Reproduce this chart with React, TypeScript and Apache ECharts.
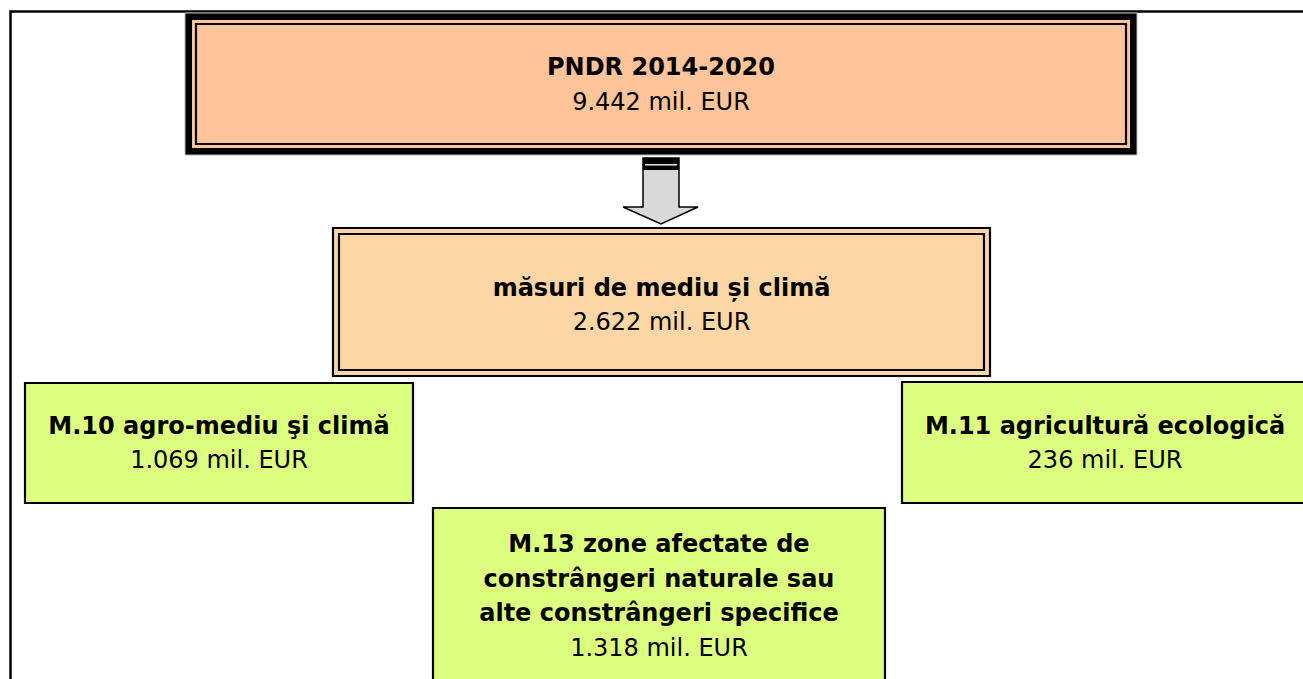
import React, { useEffect, useRef } from "react";
import * as echarts from "echarts";

// ---- data ----
const boxTitles: string[][] = [
  ["PNDR 2014-2020"],
  ["măsuri de mediu și climă"],
  ["M.10 agro-mediu şi climă"],
  ["M.11 agricultură ecologică"],
  ["M.13 zone afectate de", "constrângeri naturale sau", "alte constrângeri specifice"],
];
const boxAmounts: number[] = [9442, 2622, 1069, 236, 1318];
const amountUnit = "mil. EUR";

// ---- layout (positions / sizes / styles) ----
const FONT = "'DejaVu Sans', Verdana, sans-serif";
const FS = 24;
const LH = 34.5;
type Box = { x: number; y: number; w: number; h: number; cx: number; cy: number };
const boxes: Box[] = [
  { x: 185, y: 13, w: 952, h: 142, cx: 661, cy: 84.5 },
  { x: 332, y: 227, w: 659, h: 150, cx: 661.5, cy: 305 },
  { x: 25, y: 383, w: 388, h: 120, cx: 219, cy: 443 },
  { x: 902, y: 382, w: 410, h: 121, cx: 1105, cy: 443 },
  { x: 433, y: 508, w: 452, h: 220, cx: 659, cy: 596 },
];

const fmt = (v: number) => v.toString().replace(/\B(?=(\d{3})+(?!\d))/g, ".");

function textLines(i: number): any[] {
  const b = boxes[i];
  const lines = [...boxTitles[i].map((t) => ({ t, bold: true })), { t: `${fmt(boxAmounts[i])} ${amountUnit}`, bold: false }];
  const n = lines.length;
  return lines.map((l, k) => ({
    type: "text",
    x: b.cx,
    y: b.cy + (k - (n - 1) / 2) * LH,
    z: 10,
    style: {
      text: l.t,
      fill: "#000",
      font: `${l.bold ? "bold " : ""}${FS}px ${FONT}`,
      textAlign: "center",
      textVerticalAlign: "middle",
    },
  }));
}

export default function App() {
  const ref = useRef<HTMLDivElement>(null);
  useEffect(() => {
    if (!ref.current) return;
    const chart = echarts.init(ref.current, undefined, { renderer: "svg" });
    const [b0, b1, b2, b3, b4] = boxes;
    const green = "#DDFF80";
    const elements: any[] = [
      // outer frame
      {
        type: "polyline",
        shape: { points: [[10.5, 700], [10.5, 11.5], [1320, 11.5]] },
        style: { stroke: "#000", lineWidth: 2.5, fill: null },
      },
      // top box
      { type: "rect", shape: { x: b0.x, y: b0.y, width: b0.w, height: b0.h }, style: { fill: "#000", stroke: "#BBBBBB", lineWidth: 1 } },
      { type: "rect", shape: { x: b0.x + 7, y: b0.y + 7, width: b0.w - 14, height: b0.h - 14 }, style: { fill: "#FFC49A" } },
      { type: "rect", shape: { x: b0.x + 11, y: b0.y + 11, width: b0.w - 22, height: b0.h - 22 }, style: { fill: null, stroke: "#000", lineWidth: 2.2 } },
      // arrow
      {
        type: "polygon",
        shape: {
          points: [
            [643, 158], [679, 158], [679, 207], [698, 207], [661, 224], [623, 207], [643, 207],
          ],
        },
        style: { fill: "#D9D9D9", stroke: "#000", lineWidth: 1.5 },
      },
      { type: "rect", shape: { x: 643, y: 158, width: 36, height: 12 }, style: { fill: "#000" } },
      { type: "line", shape: { x1: 645, y1: 164.8, x2: 677, y2: 164.8 }, style: { stroke: "#D9D9D9", lineWidth: 1.6 } },
      // second box
      { type: "rect", shape: { x: b1.x, y: b1.y, width: b1.w, height: b1.h }, style: { fill: "#FCD6A5" } },
      { type: "rect", shape: { x: b1.x + 1, y: b1.y + 1, width: b1.w - 2, height: b1.h - 2 }, style: { fill: null, stroke: "#000", lineWidth: 2.2 } },
      { type: "rect", shape: { x: b1.x + 7, y: b1.y + 7, width: b1.w - 14, height: b1.h - 14 }, style: { fill: null, stroke: "#000", lineWidth: 2.2 } },
      // green boxes
      ...[b2, b3, b4].map((b) => ({
        type: "rect",
        shape: { x: b.x, y: b.y, width: b.w, height: b.h },
        style: { fill: green, stroke: "#000", lineWidth: 2.2 },
      })),
      ...boxTitles.flatMap((_, i) => textLines(i)),
    ];
    chart.setOption({ animation: false, graphic: { elements } });
    return () => chart.dispose();
  }, []);
  return (
    <div
      ref={ref}
      style={{ position: "fixed", left: 0, top: 0, width: 1303, height: 679, background: "#fff" }}
    />
  );
}
